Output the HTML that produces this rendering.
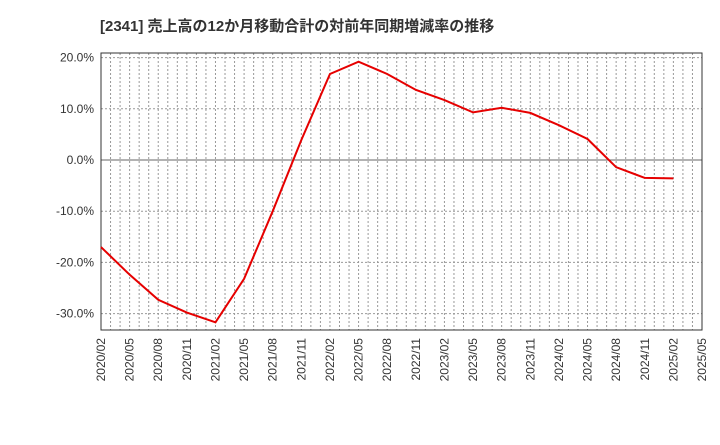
<!DOCTYPE html>
<html><head><meta charset="utf-8"><style>
body{margin:0;background:#fff;width:720px;height:440px;overflow:hidden}
svg text{font-family:"Liberation Sans","Noto Sans CJK JP",sans-serif}
</style></head><body>
<svg id="c" width="720" height="440" xmlns="http://www.w3.org/2000/svg">
<text x="100" y="31" font-size="15" font-weight="bold" fill="#333">[2341]  売上高の12か月移動合計の対前年同期増減率の推移</text>
</svg>
<script>
const categories=["2020/02","2020/05","2020/08","2020/11","2021/02","2021/05","2021/08","2021/11","2022/02","2022/05","2022/08","2022/11","2023/02","2023/05","2023/08","2023/11","2024/02","2024/05","2024/08","2024/11","2025/02","2025/05"];
const values=[-17,-22.4,-27.3,-29.8,-31.7,-23.2,-10,3.9,16.8,19.2,16.8,13.7,11.7,9.3,10.2,9.2,6.8,4.1,-1.4,-3.5,-3.6];
const yTicks=[20,10,0,-10,-20,-30];
const yTickLabels=["20.0%","10.0%","0.0%","-10.0%","-20.0%","-30.0%"];
const NS="http://www.w3.org/2000/svg",svg=document.getElementById('c');
const L=101,R=702,T=53,B=330;
const x=i=>L+(R-L)*i/(categories.length-1);
const y=v=>160-v*5.12;
function mk(t,a,p){const e=document.createElementNS(NS,t);for(const k in a)e.setAttribute(k,a[k]);(p||svg).appendChild(e);return e;}
const g=mk('g',{});


for(let m=1;m<(categories.length-1)*3;m++){const xx=L+(R-L)*m/((categories.length-1)*3);
 mk('line',{x1:xx,x2:xx,y1:T,y2:B,stroke:'#999','stroke-width':1,'stroke-dasharray':'2,2'},g);}
yTicks.forEach((v,i)=>{const yy=y(v);
 mk('line',{x1:L,x2:R,y1:yy,y2:yy,stroke:v===0?'#666':'#999','stroke-width':1,'stroke-dasharray':v===0?'':'2,2'},g);
 const t=mk('text',{x:L-7,y:yy+4,'font-size':12,'text-anchor':'end',fill:'#333'});t.textContent=yTickLabels[i];
 
 });
categories.forEach((c,i)=>{const t=mk('text',{transform:`translate(${x(i)+4},${B+8}) rotate(-90)`,'font-size':12,'text-anchor':'end',fill:'#333'});t.textContent=c;
 
 });
const fr=mk('rect',{x:L,y:T,width:R-L,height:B-T,fill:'none',stroke:'#333','stroke-width':1});


const line=mk('polyline',{points:values.map((v,i)=>x(i)+','+y(v)).join(' '),fill:'none',stroke:'#e60000','stroke-width':2});


</script>
</body></html>
